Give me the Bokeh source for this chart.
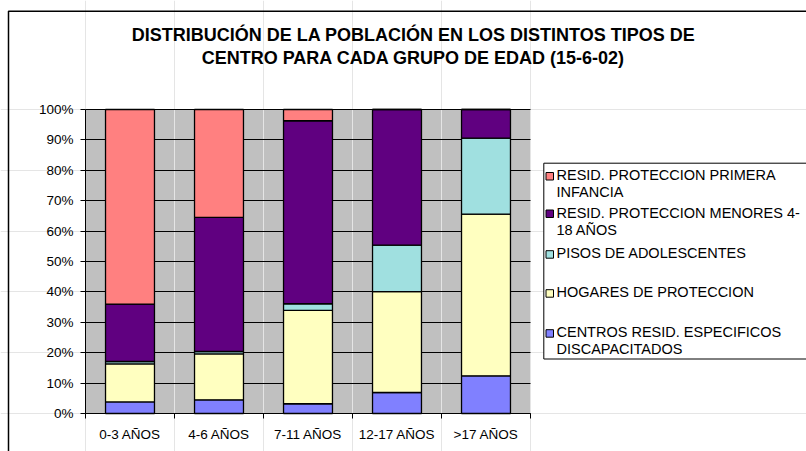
from bokeh.plotting import figure
from bokeh.models import (ColumnDataSource, BoxAnnotation, Label, FixedTicker, Range1d,
                          LinearAxis, Grid)
from bokeh.embed import file_html
from bokeh.resources import INLINE

# ---- data ----
categories = ["0-3 AÑOS", "4-6 AÑOS", "7-11 AÑOS", "12-17 AÑOS", ">17 AÑOS"]
discapacitados = [3.8, 4.5, 3.2, 6.9, 12.4]
hogares = [12.5, 15.1, 30.7, 33.2, 53.2]
pisos = [0.8, 0.8, 2.2, 15.3, 25.0]
menores = [18.9, 44.1, 60.2, 44.6, 9.4]
primera = [64.0, 35.5, 3.7, 0.0, 0.0]

series_names = ["CENTROS RESID. ESPECIFICOS DISCAPACITADOS",
                "HOGARES DE PROTECCION",
                "PISOS DE ADOLESCENTES",
                "RESID. PROTECCION MENORES 4-18 AÑOS",
                "RESID. PROTECCION PRIMERA INFANCIA"]
legend_lines = [["CENTROS RESID. ESPECIFICOS", "DISCAPACITADOS"],
                ["HOGARES DE PROTECCION"],
                ["PISOS DE ADOLESCENTES"],
                ["RESID. PROTECCION MENORES 4-", "18 AÑOS"],
                ["RESID. PROTECCION PRIMERA", "INFANCIA"]]
colors = ["#8080FF", "#FFFFC0", "#A0E0E0", "#600080", "#FF8080"]
y_ticks = [0, 10, 20, 30, 40, 50, 60, 70, 80, 90, 100]
y_tick_labels = ["0%", "10%", "20%", "30%", "40%", "50%", "60%", "70%", "80%", "90%", "100%"]
title_lines = ["DISTRIBUCIÓN DE LA POBLACIÓN EN LOS DISTINTOS TIPOS DE",
               "CENTRO PARA CADA GRUPO DE EDAD (15-6-02)"]

FONT = "Liberation Sans"
W, H = 806, 451
FL, FR, FT, FB = 85, 530, 109, 413  # plot-area edges in page pixels
NX = len(categories)
YMAX = 100


def dx(px):
    return (px - FL) / (FR - FL) * NX


def dy(py):
    return (FB - py) / (FB - FT) * YMAX


xpos = [i + 0.5 for i in range(NX)]
source = ColumnDataSource(dict(x=xpos, s0=discapacitados, s1=hogares, s2=pisos,
                               s3=menores, s4=primera))

p = figure(width=W, height=H, output_backend="svg", toolbar_location=None,
           x_range=Range1d(dx(0), dx(W)), y_range=Range1d(dy(H), dy(0)),
           x_axis_location=None, y_axis_location=None, title=None,
           min_border=0, background_fill_color="white",
           border_fill_color="white", outline_line_color=None)

# plot-area background
p.add_layout(BoxAnnotation(left=0, right=NX, bottom=0, top=YMAX, level="image",
                           fill_color="#C0C0C0", fill_alpha=1, line_color=None))

# horizontal gridlines
p.add_layout(Grid(dimension=1, ticker=FixedTicker(ticks=y_ticks), cross_bounds=(0, NX),
                  grid_line_color="black", grid_line_width=1))

p.vbar_stack(["s0", "s1", "s2", "s3", "s4"], x="x", width=0.55, color=colors,
             line_color="black", line_width=1.3, source=source)

# x axis
xa = LinearAxis(fixed_location=0, bounds=(0, NX),
                ticker=FixedTicker(ticks=xpos, minor_ticks=list(range(NX + 1))))
xa.major_label_overrides = {x: c for x, c in zip(xpos, categories)}
xa.major_tick_line_color = None
xa.major_tick_out = 5
xa.major_tick_in = 0
xa.minor_tick_line_color = "black"
xa.minor_tick_out = 5
xa.minor_tick_in = 0
xa.axis_line_color = "black"
xa.major_label_standoff = 8
xa.major_label_text_font = FONT
xa.major_label_text_font_size = "13.5px"
xa.major_label_text_color = "black"
p.add_layout(xa, "below")

# y axis
ya = LinearAxis(fixed_location=0, bounds=(0, YMAX), ticker=FixedTicker(ticks=y_ticks))
ya.major_label_overrides = {t: l for t, l in zip(y_ticks, y_tick_labels)}
ya.major_tick_out = 5
ya.major_tick_in = 0
ya.minor_tick_line_color = None
ya.axis_line_color = "black"
ya.major_label_standoff = 7
ya.major_label_text_font = FONT
ya.major_label_text_font_size = "13.5px"
ya.major_label_text_color = "black"
p.add_layout(ya, "left")

# outer chart border (left and top visible)
p.add_layout(BoxAnnotation(left=dx(8), right=dx(3000), top=dy(10.7), bottom=dy(3000),
                           fill_color=None, fill_alpha=0, line_color="black",
                           line_width=1.5, line_alpha=1))

# title
for i, t in enumerate(title_lines):
    p.add_layout(Label(x=dx(413), y=dy(34.5 + 23 * i), text=t,
                       text_align="center", text_baseline="middle",
                       text_font=FONT, text_font_style="bold",
                       text_font_size="18px", text_color="black"))

# legend (Excel-like, drawn manually)
p.add_layout(BoxAnnotation(left=dx(543.3), right=dx(3000), top=dy(162.7), bottom=dy(358.5),
                           fill_color="white", fill_alpha=1, line_color="black",
                           line_width=1, line_alpha=1))
legend_y = [174.5, 212, 252.7, 291.7, 331.7]
order = [4, 3, 2, 1, 0]
for k, si in enumerate(order):
    yc = legend_y[k]
    p.add_layout(BoxAnnotation(left=dx(545.5), right=dx(553), top=dy(yc - 2.5),
                               bottom=dy(yc + 5), fill_color=colors[si], fill_alpha=1,
                               line_color="black", line_width=1, line_alpha=1))
    for j, line in enumerate(legend_lines[si]):
        p.add_layout(Label(x=dx(556), y=dy(yc + 17 * j), text=line,
                           text_align="left", text_baseline="middle",
                           text_font=FONT, text_font_size="14.5px",
                           text_color="black"))

open("out.html", "w").write(file_html(p, INLINE))
